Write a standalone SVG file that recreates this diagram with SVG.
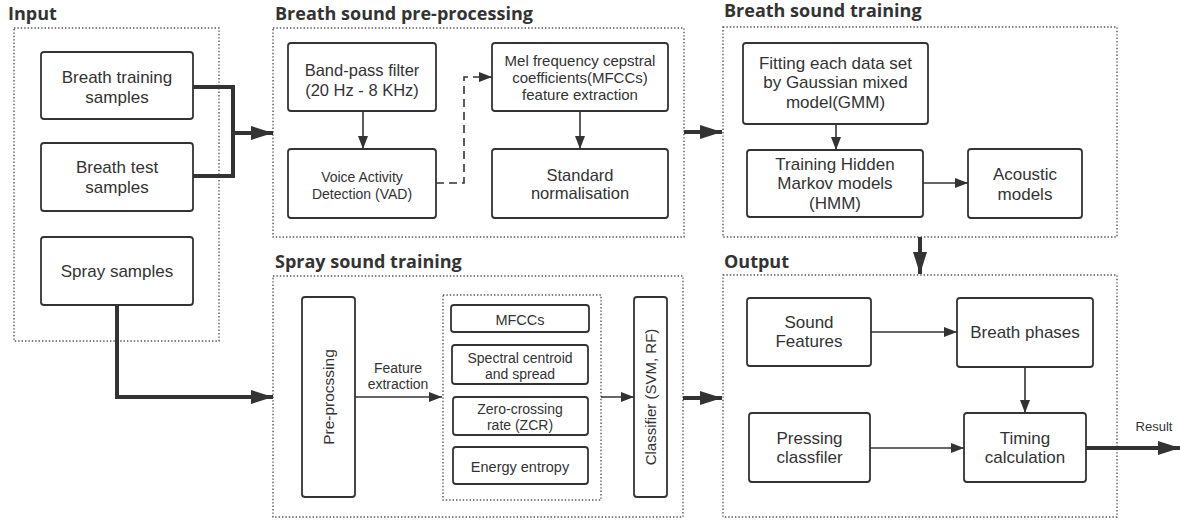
<svg xmlns="http://www.w3.org/2000/svg" width="1180" height="520" viewBox="0 0 1180 520">
<defs>
<style>
.t{font-family:"Liberation Sans",Arial,sans-serif;fill:#333;text-anchor:middle}
.h{font-family:"Open Sans","Noto Sans","Liberation Sans",sans-serif;font-weight:bold;fill:#333;font-size:18px}
.n{fill:#fff;stroke:#333;stroke-width:1.8}
.g{fill:none;stroke:#555;stroke-width:1.4;stroke-dasharray:1.4 2}
.c{fill:none;stroke:#333;stroke-width:1.6}
.k{fill:none;stroke:#333;stroke-width:4}
</style>
<marker id="a" markerUnits="userSpaceOnUse" markerWidth="14" markerHeight="10" refX="13" refY="5" orient="auto"><path d="M0,0 L13,5 L0,10 z" fill="#333"/></marker>
<marker id="b" markerUnits="userSpaceOnUse" markerWidth="22" markerHeight="14" refX="22" refY="7" orient="auto"><path d="M0,0 L22,7 L0,14 z" fill="#333"/></marker>
</defs>
<rect width="1180" height="520" fill="#fff"/>

<g id="input">
<text class="h" x="8" y="20">Input</text>
<rect class="g" x="14" y="28" width="205" height="313"/>
</g>
<g id="preproc">
<text class="h" x="275" y="20">Breath sound pre-processing</text>
<rect class="g" x="273" y="28" width="411" height="209"/>
</g>
<g id="training">
<text class="h" x="724" y="17">Breath sound training</text>
<rect class="g" x="723" y="27" width="394" height="210"/>
</g>
<g id="spray">
<text class="h" x="275" y="268">Spray sound training</text>
<rect class="g" x="273" y="276" width="410" height="241"/>
<rect class="g" x="443" y="295" width="158" height="205"/>
</g>
<g id="output">
<text class="h" x="724" y="268">Output</text>
<rect class="g" x="723" y="275" width="394" height="242"/>
</g>

<g id="breath-training-samples">
<rect class="n" x="41" y="52" width="152" height="67" rx="3"/>
<text class="t" font-size="17" x="117" y="83">Breath training</text>
<text class="t" font-size="17" x="117" y="103">samples</text>
</g>
<g id="breath-test-samples">
<rect class="n" x="41" y="143" width="152" height="68" rx="3"/>
<text class="t" font-size="17" x="117" y="173">Breath test</text>
<text class="t" font-size="17" x="117" y="193">samples</text>
</g>
<g id="spray-samples">
<rect class="n" x="41" y="237" width="152" height="68" rx="3"/>
<text class="t" font-size="17" x="117" y="277">Spray samples</text>
</g>

<g id="bandpass">
<rect class="n" x="288" y="43" width="148" height="68" rx="3"/>
<text class="t" font-size="16.5" x="362" y="76">Band-pass filter</text>
<text class="t" font-size="16.5" x="362" y="96">(20 Hz - 8 KHz)</text>
</g>
<g id="vad">
<rect class="n" x="288" y="149" width="148" height="69" rx="3"/>
<text class="t" font-size="14" x="362" y="182">Voice Activity</text>
<text class="t" font-size="14" x="362" y="198.5">Detection (VAD)</text>
</g>
<g id="mfcc">
<rect class="n" x="492" y="43" width="176" height="68" rx="3"/>
<text class="t" font-size="15" x="580" y="65.5">Mel frequency cepstral</text>
<text class="t" font-size="15" x="580" y="82.5">coefficients(MFCCs)</text>
<text class="t" font-size="15" x="580" y="99.5">feature extraction</text>
</g>
<g id="standard">
<rect class="n" x="492" y="149" width="176" height="69" rx="3"/>
<text class="t" font-size="16.5" x="580" y="180.5">Standard</text>
<text class="t" font-size="16.5" x="580" y="199">normalisation</text>
</g>

<g id="gmm">
<rect class="n" x="743" y="43" width="185" height="81" rx="3"/>
<text class="t" font-size="17" x="835.5" y="69">Fitting each data set</text>
<text class="t" font-size="17" x="835.5" y="88.3">by Gaussian mixed</text>
<text class="t" font-size="17" x="835.5" y="107.6">model(GMM)</text>
</g>
<g id="hmm">
<rect class="n" x="747" y="150" width="176" height="67" rx="3"/>
<text class="t" font-size="17" x="835" y="170">Training Hidden</text>
<text class="t" font-size="17" x="835" y="189.3">Markov models</text>
<text class="t" font-size="17" x="835" y="208.6">(HMM)</text>
</g>
<g id="acoustic">
<rect class="n" x="968" y="149" width="114" height="69" rx="3"/>
<text class="t" font-size="17" x="1025" y="180">Acoustic</text>
<text class="t" font-size="17" x="1025" y="199.5">models</text>
</g>

<g id="spray-preproc">
<rect class="n" x="302" y="297" width="53" height="200" rx="3"/>
<text class="t" font-size="15.5" transform="translate(333.5,397) rotate(-90)">Pre-procssing</text>
</g>
<g id="feat-mfccs">
<rect class="n" x="451" y="305" width="138" height="27" rx="3"/>
<text class="t" font-size="14.5" x="520" y="325">MFCCs</text>
</g>
<g id="feat-spectral">
<rect class="n" x="452" y="345" width="136" height="39" rx="3"/>
<text class="t" font-size="14" x="520" y="362.5">Spectral centroid</text>
<text class="t" font-size="14" x="520" y="378.5">and spread</text>
</g>
<g id="feat-zcr">
<rect class="n" x="453" y="397" width="135" height="38" rx="3"/>
<text class="t" font-size="14" x="520" y="413.5">Zero-crossing</text>
<text class="t" font-size="14" x="520" y="429.5">rate (ZCR)</text>
</g>
<g id="feat-energy">
<rect class="n" x="453" y="447" width="135" height="37" rx="3"/>
<text class="t" font-size="14.5" x="520" y="471.5">Energy entropy</text>
</g>
<g id="classifier">
<rect class="n" x="634" y="297" width="33" height="200" rx="3"/>
<text class="t" font-size="15" transform="translate(655.5,397) rotate(-90)">Classifier (SVM, RF)</text>
</g>

<g id="sound-features">
<rect class="n" x="747" y="298" width="124" height="68" rx="3"/>
<text class="t" font-size="17" x="809" y="327.5">Sound</text>
<text class="t" font-size="17" x="809" y="347">Features</text>
</g>
<g id="breath-phases">
<rect class="n" x="957" y="298" width="136" height="69" rx="3"/>
<text class="t" font-size="17" x="1025" y="337.5">Breath phases</text>
</g>
<g id="pressing">
<rect class="n" x="749" y="413" width="121" height="69" rx="3"/>
<text class="t" font-size="17" x="809.5" y="443.5">Pressing</text>
<text class="t" font-size="17" x="809.5" y="463">classfiler</text>
</g>
<g id="timing">
<rect class="n" x="964" y="413" width="122" height="69" rx="3"/>
<text class="t" font-size="17" x="1025" y="443.5">Timing</text>
<text class="t" font-size="17" x="1025" y="463">calculation</text>
</g>

<g id="connectors">
<polyline class="k" points="193,87 233,87 233,176 193,176"/>
<line class="k" x1="233" y1="133" x2="273" y2="133" marker-end="url(#b)"/>
<polyline class="k" points="117,305 117,397 273,397" marker-end="url(#b)"/>
<line class="c" x1="363" y1="111" x2="363" y2="149" marker-end="url(#a)"/>
<polyline class="c" points="436,183 464,183 464,77 492,77" stroke-dasharray="8 5" marker-end="url(#a)"/>
<line class="c" x1="580" y1="111" x2="580" y2="149" marker-end="url(#a)"/>
<line class="k" x1="684" y1="132" x2="722" y2="132" marker-end="url(#b)"/>
<line class="c" x1="836" y1="124" x2="836" y2="150" marker-end="url(#a)"/>
<line class="c" x1="923" y1="183" x2="968" y2="183" marker-end="url(#a)"/>
<line class="k" x1="920" y1="237" x2="920" y2="274" marker-end="url(#b)"/>
<line class="c" x1="355" y1="397" x2="442" y2="397" marker-end="url(#a)"/>
<text class="t" font-size="14" x="398" y="372.5">Feature</text>
<text class="t" font-size="14" x="398" y="389">extraction</text>
<line class="c" x1="601" y1="397" x2="634" y2="397" marker-end="url(#a)"/>
<line class="k" x1="683" y1="398" x2="722" y2="398" marker-end="url(#b)"/>
<line class="c" x1="871" y1="332" x2="957" y2="332" marker-end="url(#a)"/>
<line class="c" x1="1025" y1="367" x2="1025" y2="413" marker-end="url(#a)"/>
<line class="c" x1="870" y1="448" x2="964" y2="448" marker-end="url(#a)"/>
<line class="k" x1="1086" y1="448" x2="1180" y2="448" marker-end="url(#b)"/>
<text class="t" font-size="13" x="1154" y="431">Result</text>
</g>
</svg>
